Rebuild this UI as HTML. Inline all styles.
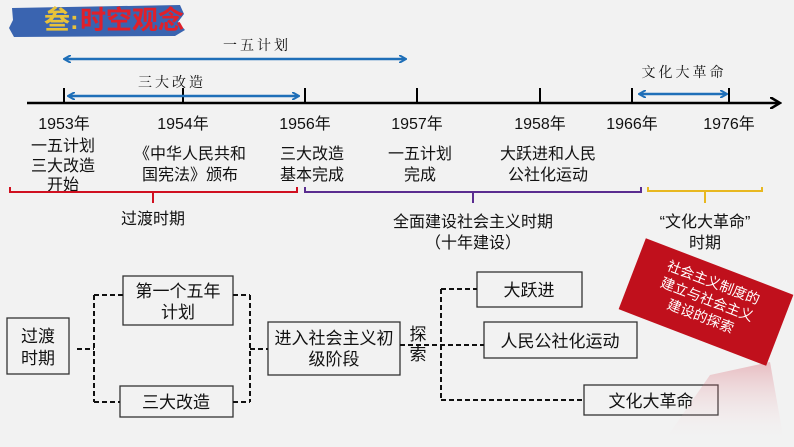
<!DOCTYPE html>
<html><head><meta charset="utf-8"><style>
html,body{margin:0;padding:0;background:#f2f2f2;}
svg{display:block;font-family:"Liberation Sans","Noto Sans CJK SC",sans-serif;}
</style></head><body>
<svg width="794" height="447" viewBox="0 0 794 447" xmlns="http://www.w3.org/2000/svg">
<defs>
<marker id="ab" markerWidth="8" markerHeight="8" refX="6" refY="4" orient="auto-start-reverse" markerUnits="userSpaceOnUse"><path d="M0,0 L7,4 L0,8" fill="none" stroke="#1f6fb8" stroke-width="2"/></marker>
<marker id="ak" markerWidth="12" markerHeight="12" refX="10" refY="6" orient="auto" markerUnits="userSpaceOnUse"><path d="M0,0 L10,6 L0,12" fill="none" stroke="#000" stroke-width="2.5"/></marker>
<linearGradient id="rf" x1="0" y1="0" x2="0" y2="1"><stop offset="0" stop-color="#d04050" stop-opacity="0.3"/><stop offset="1" stop-color="#fff" stop-opacity="0"/></linearGradient>
</defs>
<rect width="794" height="447" fill="#f2f2f2"/>
<!-- title -->
<path d="M12,8 L180,5 L184,14 L178,22 L185,30 L175,36 L14,37 L9,28 L13,20 Z" fill="#3a64b0"/>
<text x="44" y="29" font-size="26" font-weight="bold" fill="#e8c23a">叁:</text>
<text x="80" y="29" font-size="26" font-weight="bold" fill="#e0202a">时空观念</text>
<!-- timeline -->
<line x1="27" y1="103" x2="780" y2="103" stroke="#000" stroke-width="2.5" marker-end="url(#ak)"/>
<g stroke="#000" stroke-width="2">
<line x1="64" y1="88" x2="64" y2="103"/><line x1="183" y1="88" x2="183" y2="103"/><line x1="305" y1="88" x2="305" y2="103"/><line x1="417" y1="88" x2="417" y2="103"/><line x1="540" y1="88" x2="540" y2="103"/><line x1="632" y1="88" x2="632" y2="103"/><line x1="729" y1="88" x2="729" y2="103"/>
</g>
<g stroke="#1f6fb8" stroke-width="2.5">
<line x1="65" y1="59" x2="405" y2="59" marker-start="url(#ab)" marker-end="url(#ab)"/>
<line x1="69" y1="96" x2="298" y2="96" marker-start="url(#ab)" marker-end="url(#ab)"/>
<line x1="640" y1="94" x2="726" y2="94" marker-start="url(#ab)" marker-end="url(#ab)"/>
</g>
<g font-size="14" fill="#111" text-anchor="middle" font-family="'Noto Serif CJK SC',serif" letter-spacing="3">
<text x="257" y="50">一五计划</text><text x="172" y="87">三大改造</text><text x="684" y="77">文化大革命</text>
</g>
<g font-size="16" fill="#111" text-anchor="middle">
<text x="64" y="129">1953年</text><text x="183" y="129">1954年</text><text x="305" y="129">1956年</text><text x="417" y="129">1957年</text><text x="540" y="129">1958年</text><text x="632" y="129">1966年</text><text x="729" y="129">1976年</text>
<text x="63" y="151">一五计划</text><text x="63" y="171">三大改造</text><text x="63" y="190">开始</text>
<text x="190" y="159">《中华人民共和</text><text x="190" y="180">国宪法》颁布</text>
<text x="312" y="159">三大改造</text><text x="312" y="180">基本完成</text>
<text x="420" y="159">一五计划</text><text x="420" y="180">完成</text>
<text x="548" y="159">大跃进和人民</text><text x="548" y="180">公社化运动</text>
<text x="153" y="224">过渡时期</text>
<text x="473" y="227">全面建设社会主义时期</text><text x="473" y="248">（十年建设）</text>
<text x="705" y="227">“文化大革命”</text><text x="705" y="248">时期</text>
</g>
<g fill="none" stroke-width="2">
<path d="M10,187 V192 H297 V187 M153,192 V203" stroke="#d01020"/>
<path d="M305,187 V192 H641 V187 M473,192 V203" stroke="#5a2d90"/>
<path d="M648,187 V191 H762 V187 M705,191 V203" stroke="#e8b820"/>
</g>
<!-- boxes -->
<g fill="none" stroke="#333" stroke-width="1.3">
<rect x="7" y="318" width="62" height="56"/><rect x="123" y="276" width="110" height="49"/><rect x="120" y="386" width="113" height="31"/><rect x="268" y="322" width="132" height="53"/><rect x="477" y="272" width="105" height="35"/><rect x="484" y="322" width="153" height="36"/><rect x="584" y="385" width="134" height="30"/>
</g>
<g fill="none" stroke="#111" stroke-width="2" stroke-dasharray="5,3">
<path d="M77,349 H94 M94,295 V402 M94,295 H123 M94,402 H120"/>
<path d="M233,295 H250 M233,402 H250 M250,295 V402 M250,349 H268"/>
<path d="M400,345 H484 M441,289 V400 M441,289 H477 M441,400 H584"/>
</g>
<g font-size="17" fill="#111" text-anchor="middle">
<text x="38" y="342">过渡</text><text x="38" y="364">时期</text>
<text x="178" y="297">第一个五年</text><text x="178" y="318">计划</text>
<text x="176" y="408">三大改造</text>
<text x="334" y="344">进入社会主义初</text><text x="334" y="365">级阶段</text>
<text x="418" y="340">探</text><text x="418" y="360">索</text>
<text x="529" y="296">大跃进</text><text x="560" y="347">人民公社化运动</text><text x="651" y="407">文化大革命</text>
</g>
<!-- red rotated box -->
<polygon points="710,375 770,362 785,447 660,447" fill="url(#rf)"/>
<g transform="translate(706,302) rotate(21)">
<rect x="-79" y="-38" width="158" height="76" fill="#c0101c"/>
<g font-size="14" fill="#fff" text-anchor="middle">
<text x="0" y="-16">社会主义制度的</text><text x="0" y="2">建立与社会主义</text><text x="0" y="20">建设的探索</text>
</g></g>
</svg>
</body></html>
